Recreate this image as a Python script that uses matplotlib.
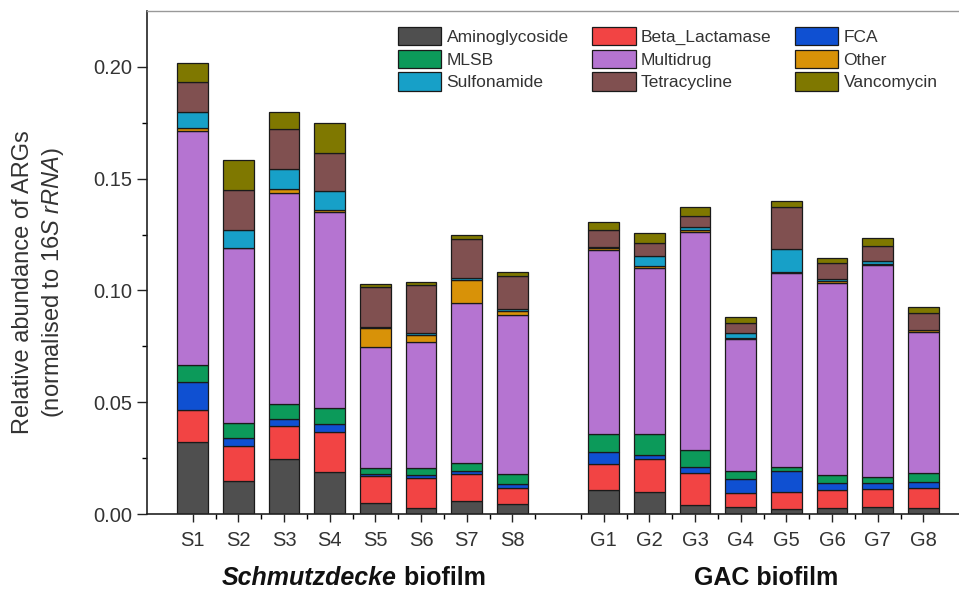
import matplotlib
matplotlib.use("Agg")
import matplotlib.pyplot as plt
import numpy as np

plt.rcParams['font.family'] = ['Liberation Sans', 'DejaVu Sans']
plt.rcParams['mathtext.fontset'] = 'custom'
plt.rcParams['mathtext.rm'] = 'Liberation Sans'
plt.rcParams['mathtext.it'] = 'Liberation Sans:italic'

samples = ['S1', 'S2', 'S3', 'S4', 'S5', 'S6', 'S7', 'S8',
           'G1', 'G2', 'G3', 'G4', 'G5', 'G6', 'G7', 'G8']
positions = [1, 2, 3, 4, 5, 6, 7, 8, 10, 11, 12, 13, 14, 15, 16, 17]

# relative abundance per ARG class (stacked bottom to top)
aminoglycoside = [.0323, .0148, .0245, .0189, .0048, .0025, .0058, .0045,
                  .0107, .0097, .0040, .0033, .0022, .0025, .0033, .0025]
beta_lactamase = [.0142, .0156, .0150, .0179, .0122, .0135, .0120, .0073,
                  .0115, .0148, .0145, .0060, .0078, .0082, .0077, .0090]
fca = [.0127, .0035, .0030, .0035, .0008, .0014, .0014, .0015,
       .0054, .0019, .0024, .0064, .0092, .0033, .0030, .0030]
mlsb = [.0075, .0067, .0067, .0073, .0029, .0030, .0035, .0045,
        .0081, .0093, .0077, .0035, .0020, .0034, .0024, .0037]
multidrug = [.1048, .0783, .0943, .0877, .0539, .0567, .0719, .0712,
             .0824, .0745, .0977, .0591, .0865, .0858, .0950, .0634]
other = [.0011, .0000, .0018, .0005, .0088, .0030, .0101, .0020,
         .0007, .0007, .0007, .0006, .0005, .0012, .0004, .0006]
sulfonamide = [.0070, .0082, .0091, .0089, .0002, .0007, .0007, .0005,
               .0008, .0045, .0016, .0019, .0102, .0006, .0015, .0003]
tetracycline = [.0138, .0179, .0177, .0167, .0178, .0217, .0176, .0150,
                .0075, .0060, .0047, .0045, .0191, .0072, .0067, .0073]
vancomycin = [.0082, .0134, .0076, .0134, .0015, .0012, .0018, .0019,
              .0037, .0042, .0042, .0030, .0023, .0022, .0036, .0030]

classes = ['Aminoglycoside', 'Beta_Lactamase', 'FCA', 'MLSB', 'Multidrug',
           'Other', 'Sulfonamide', 'Tetracycline', 'Vancomycin']
series = [aminoglycoside, beta_lactamase, fca, mlsb, multidrug,
          other, sulfonamide, tetracycline, vancomycin]
colors = ['#4f4f4f', '#f24444', '#0f50d2', '#0c9a5a', '#b574d1',
          '#d89208', '#17a0c8', '#805050', '#7f7800']

fig = plt.figure(figsize=(9.59, 5.92), dpi=100)
ax = fig.add_axes([147/959, 78/592, 1 - 147/959, 503/592])

bottom = np.zeros(len(samples))
handles = []
for name, vals, col in zip(classes, series, colors):
    b = ax.bar(positions, vals, width=0.67, bottom=bottom, color=col,
               edgecolor='#1a1a1a', linewidth=0.9, label=name)
    handles.append(b)
    bottom += np.array(vals)

ax.set_xlim(0, 17.78)
ax.set_ylim(0, 0.225)
ax.set_xticks(positions)
ax.set_xticklabels(samples)
ax.set_xticks(np.arange(1.5, 17, 1), minor=True)
ax.set_yticks([0, 0.05, 0.10, 0.15, 0.20])
ax.set_yticklabels(['0.00', '0.05', '0.10', '0.15', '0.20'])
ax.set_yticks([0.025, 0.075, 0.125, 0.175], minor=True)

ax.tick_params(axis='both', which='major', labelsize=14.5, direction='out',
               width=1.0, color='#222222', labelcolor='#333333')
ax.tick_params(axis='y', which='major', length=7)
ax.tick_params(axis='y', which='minor', length=3.5, width=1.0)
ax.tick_params(axis='x', which='major', length=6, pad=6)
ax.tick_params(axis='x', which='minor', length=3.5, width=1.0)

ax.spines['right'].set_visible(False)
ax.spines['top'].set_color('#999999')
ax.spines['top'].set_linewidth(1.0)
ax.spines['left'].set_linewidth(1.2)
ax.spines['bottom'].set_linewidth(1.2)
ax.spines['left'].set_color('#222222')
ax.spines['bottom'].set_color('#222222')

ax.set_ylabel('Relative abundance of ARGs\n(normalised to $\\mathit{16S\\ rRNA}$)',
              fontsize=17, color='#333333', linespacing=1.3)
ax.yaxis.set_label_coords(-0.100, 0.46)

# group labels under the sample ticks
ax.text(5.47, -0.127, 'Schmutzdecke', transform=ax.get_xaxis_transform(),
        ha='right', va='center', fontsize=18, fontweight='bold',
        fontstyle='italic', color='#111111')
ax.text(5.47, -0.127, ' biofilm', transform=ax.get_xaxis_transform(),
        ha='left', va='center', fontsize=18, fontweight='bold', color='#111111')
ax.text(13.55, -0.127, 'GAC biofilm', transform=ax.get_xaxis_transform(),
        ha='center', va='center', fontsize=18, fontweight='bold', color='#111111')

# legend laid out row by row across three columns
order = [0, 3, 6, 1, 4, 7, 2, 5, 8]
leg = fig.legend([handles[i] for i in order], [classes[i] for i in order],
                 ncol=3, loc='upper left', bbox_to_anchor=(398/959, 1 - 27/592),
                 frameon=False, fontsize=12.5, handlelength=2.5, handleheight=1.25,
                 handletextpad=0.3, labelspacing=0.25, columnspacing=1.35,
                 borderpad=0, borderaxespad=0)
for t in leg.get_texts():
    t.set_color('#333333')

fig.savefig('out.png', dpi=100)
